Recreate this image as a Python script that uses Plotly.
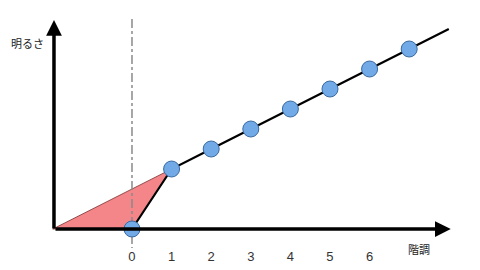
import plotly.graph_objects as go

# data
levels = [0, 1, 2, 3, 4, 5, 6, 7]
brightness = [0, 3, 4, 5, 6, 7, 8, 9]
line_end = (8, 10)
triangle_x = [-2, 1, 0, -2]
triangle_y = [0, 3, 0, 0]
tick_labels = ["0", "1", "2", "3", "4", "5", "6"]
x_label = "階調"
y_label = "明るさ"

FONT = "Noto Sans CJK JP, Arial, sans-serif"
NUMFONT = "Liberation Sans, Arial, sans-serif"

fig = go.Figure()

# red triangle
fig.add_trace(go.Scatter(x=triangle_x, y=triangle_y, mode="lines", fill="toself",
                         fillcolor="#f4868a", line=dict(color="#7a3030", width=0.8),
                         hoverinfo="skip"))
# dash-dot vertical line at 0
fig.add_trace(go.Scatter(x=[0, 0], y=[10.5, -0.95], mode="lines",
                         line=dict(color="#8a8a8a", width=1.5, dash="dashdot"),
                         hoverinfo="skip"))
# black line
fig.add_trace(go.Scatter(x=levels + [line_end[0]], y=brightness + [line_end[1]], mode="lines",
                         line=dict(color="black", width=2.2), hoverinfo="skip"))
# x axis line + arrow
fig.add_annotation(x=8.05, y=0, ax=-1.97, ay=0, xref="x", yref="y", axref="x", ayref="y",
                   showarrow=True, arrowhead=2, arrowsize=0.9, arrowwidth=3.5, arrowcolor="black", text="")
fig.add_annotation(x=-1.97, y=10.45, ax=-1.97, ay=-0.05, xref="x", yref="y", axref="x", ayref="y",
                   showarrow=True, arrowhead=2, arrowsize=0.9, arrowwidth=3.5, arrowcolor="black", text="")
# markers
fig.add_trace(go.Scatter(x=levels, y=brightness, mode="markers",
                         marker=dict(size=16, color="#72aae8", line=dict(color="#3a6aa0", width=1)),
                         hoverinfo="skip"))
# tick labels
fig.add_trace(go.Scatter(x=[int(t) for t in tick_labels], y=[-1.45] * len(tick_labels),
                         mode="text", text=tick_labels,
                         textfont=dict(family=NUMFONT, size=13, color="#333333"), hoverinfo="skip"))
# axis titles
fig.add_annotation(x=7.25, y=-1.0, xref="x", yref="y", text=x_label, showarrow=False,
                   font=dict(family=FONT, size=11, color="#222222"))
fig.add_annotation(x=-2.63, y=9.3, xref="x", yref="y", text=y_label, showarrow=False,
                   font=dict(family=FONT, size=11, color="#222222"))

fig.update_layout(width=480, height=270, margin=dict(l=0, r=0, t=0, b=0),
                  paper_bgcolor="white", plot_bgcolor="white", showlegend=False)
fig.update_xaxes(range=[-3.333, 8.788], visible=False)
fig.update_yaxes(range=[-2.05, 11.45], visible=False)

fig.write_html("out.html")
